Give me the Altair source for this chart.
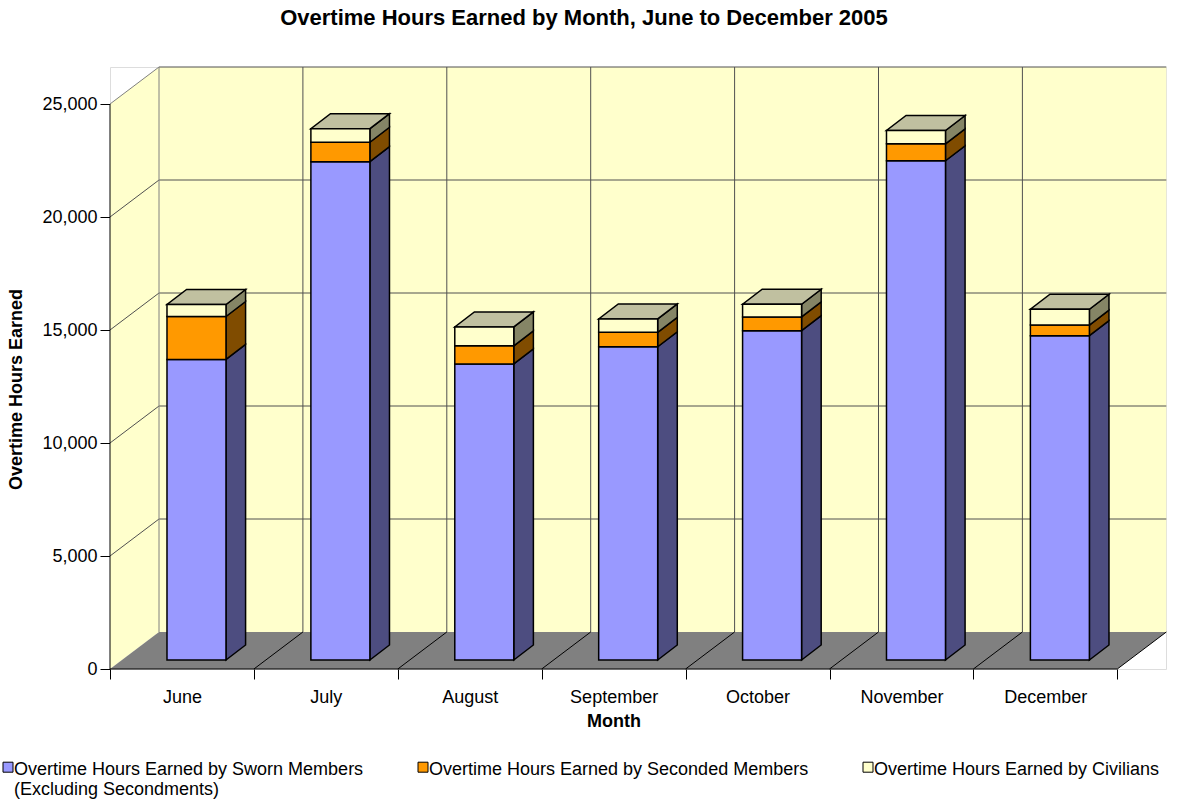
import altair as alt
import pandas as pd

# ---------------- data ----------------
months = ["June", "July", "August", "September", "October", "November", "December"]
sworn = [13300, 22050, 13100, 13860, 14570, 22090, 14350]
seconded = [1900, 860, 800, 640, 610, 750, 470]
civilians = [530, 600, 840, 590, 560, 590, 700]
series_names = [
    "Overtime Hours Earned by Sworn Members (Excluding Secondments)",
    "Overtime Hours Earned by Seconded Members",
    "Overtime Hours Earned by Civilians",
]
y_ticks = [0, 5000, 10000, 15000, 20000, 25000]

# ---------------- styles ----------------
front_colors = ["#9999FF", "#FF9900", "#FFFFCC"]
side_colors = ["#4D4D80", "#804C00", "#858566"]
top_color = "#C0C0A0"
wall_color = "#FFFFCC"
floor_color = "#808080"
grid_color = "#505050"
edge_color = "#808080"
FONT = "Liberation Sans"

# ---------------- pseudo-3D geometry (in data units) ----------------
W, H = 1056, 602
N = len(months)
YTOP = y_ticks[-1]
Y_PX = 565 / YTOP          # pixels per data unit (front plane)
YMAX = H / Y_PX
UNIT_PX = 143.9            # pixels per category
XMAX = W / UNIT_PX
DX = 49 / UNIT_PX          # depth of the floor
DY = 37 / Y_PX
FX0, FX1 = 0.396, 0.806    # bar front face within a category
BASE = 9 / Y_PX            # bar front face sits a bit back on the floor
BDX = 19.6 / UNIT_PX       # bar depth
BDY = 15 / Y_PX

values = [sworn, seconded, civilians]

front_rows, side_rows, top_rows = [], [], []
for i, m in enumerate(months):
    cum = BASE
    for j, s in enumerate(series_names):
        v = values[j][i]
        y0, y1 = cum, cum + v
        cum = y1
        front_rows.append(dict(month=m, series=s, x=i + FX0, x2=i + FX1, y=y0, y2=y1, value=v))
        seg = f"{i}-{j}"
        side_rows.append(dict(seg=seg, c=side_colors[j], x=i + FX1, lo=y0, hi=y1))
        side_rows.append(dict(seg=seg, c=side_colors[j], x=i + FX1 + BDX, lo=y0 + BDY, hi=y1 + BDY))
    T = cum
    seg = f"top-{i}"
    top_rows += [
        dict(seg=seg, c=top_color, x=i + FX0, lo=T, hi=T),
        dict(seg=seg, c=top_color, x=i + FX0 + BDX, lo=T, hi=T + BDY),
        dict(seg=seg, c=top_color, x=i + FX1, lo=T, hi=T + BDY),
        dict(seg=seg, c=top_color, x=i + FX1 + BDX, lo=T + BDY, hi=T + BDY),
    ]

front_df = pd.DataFrame(front_rows)
side_df = pd.DataFrame(side_rows)
top_df = pd.DataFrame(top_rows)

left_wall_df = pd.DataFrame([dict(x=0, lo=0, hi=YTOP), dict(x=DX, lo=DY, hi=YTOP + DY)])
back_wall_df = pd.DataFrame([dict(x=DX, x2=N + DX, y=DY, y2=YTOP + DY)])
floor_df = pd.DataFrame([
    dict(x=0, lo=0, hi=0), dict(x=DX, lo=0, hi=DY),
    dict(x=N, lo=0, hi=DY), dict(x=N + DX, lo=DY, hi=DY),
])

rule_rows = []
for v in y_ticks[1:-1]:
    rule_rows.append(dict(x=DX, x2=N + DX, y=v + DY, y2=v + DY, c=grid_color, w=1))
    rule_rows.append(dict(x=0, x2=DX, y=v, y2=v + DY, c=grid_color, w=1))
for k in range(1, N):
    rule_rows.append(dict(x=DX + k, x2=DX + k, y=DY, y2=YTOP + DY, c=grid_color, w=1))
rule_rows.append(dict(x=DX, x2=N + DX, y=YTOP + DY, y2=YTOP + DY, c=grid_color, w=1))
rule_rows.append(dict(x=0, x2=DX, y=YTOP, y2=YTOP + DY, c=edge_color, w=1))
rule_rows.append(dict(x=DX, x2=DX, y=DY, y2=YTOP + DY, c=edge_color, w=1))
for k in range(1, N + 1):
    rule_rows.append(dict(x=k, x2=k + DX, y=0, y2=DY, c="black", w=1))
rule_rows.append(dict(x=0, x2=N, y=0, y2=0, c="black", w=1))
rule_rows.append(dict(x=0, x2=0, y=0, y2=YTOP, c="black", w=1))
rule_df = pd.DataFrame(rule_rows)

# ---------------- scales & axes (identical in every layer so they merge) ----------------
xs = alt.Scale(domain=[0, XMAX], nice=False, zero=False)
ys = alt.Scale(domain=[0, YMAX], nice=False, zero=False)

month_list = "[" + ",".join(f"'{m}'" for m in months) + "]"
x_axis = alt.Axis(
    values=[k / 2 for k in range(0, 2 * N + 1)],
    labelExpr=f"datum.value % 1 == 0.5 ? {month_list}[floor(datum.value)] : ''",
    tickOpacity={"condition": {"test": "datum.value % 1 == 0", "value": 1}, "value": 0},
    tickSize=10, tickColor="black", tickWidth=1,
    domain=False, grid=False, labelOverlap=False, labelFlush=False,
    labelFontSize=18, labelFont=FONT, labelColor="black", labelPadding=9,
    title="Month", titleFontSize=18, titleFont=FONT, titleFontWeight="bold",
    titleColor="black", titleX=503.5, titleY=52, titleBaseline="middle", titleAlign="center",
)
y_axis = alt.Axis(
    values=y_ticks, labelExpr="format(datum.value, ',.0f')", domain=False, grid=False,
    tickSize=10, tickColor="black", tickWidth=1,
    labelFontSize=18, labelFont=FONT, labelColor="black", labelPadding=3,
    title="Overtime Hours Earned", titleFontSize=18, titleFont=FONT, titleFontWeight="bold",
    titleColor="black", titleX=-94, titleY=322, titleBaseline="middle", titleAlign="center",
    titleAngle=270,
)


def X(field):
    return alt.X(field, scale=xs, axis=x_axis, title="Month")


def Y(field):
    return alt.Y(field, scale=ys, axis=y_axis, stack=None, title="Overtime Hours Earned")


left_wall = alt.Chart(left_wall_df).mark_area(color=wall_color).encode(
    x=X("x:Q"), y=Y("lo:Q"), y2="hi:Q",
)
back_wall = alt.Chart(back_wall_df).mark_rect(color=wall_color).encode(
    x=X("x:Q"), x2="x2:Q", y=Y("y:Q"), y2="y2:Q",
)
floor = alt.Chart(floor_df).mark_area(color=floor_color).encode(
    x=X("x:Q"), y=Y("lo:Q"), y2="hi:Q",
)
rules = alt.Chart(rule_df).mark_rule().encode(
    x=X("x:Q"), x2="x2:Q", y=Y("y:Q"), y2="y2:Q",
    color=alt.Color("c:N", scale=None),
    size=alt.Size("w:Q", scale=None),
)
sides = alt.Chart(side_df).mark_area(stroke="black", strokeWidth=1.5, fillOpacity=1).encode(
    x=X("x:Q"), y=Y("lo:Q"), y2="hi:Q",
    fill=alt.Fill("c:N", scale=None),
    detail="seg:N",
)
tops = alt.Chart(top_df).mark_area(stroke="black", strokeWidth=1.5, fillOpacity=1).encode(
    x=X("x:Q"), y=Y("lo:Q"), y2="hi:Q",
    fill=alt.Fill("c:N", scale=None),
    detail="seg:N",
)

label_lines = (
    f"datum.label == '{series_names[0]}' ? "
    "['Overtime Hours Earned by Sworn Members', '(Excluding Secondments)'] : [datum.label, '']"
)
legend = alt.Legend(
    title=None, orient="none", legendX=-114, legendY=685,
    direction="horizontal", columns=3, columnPadding=47, padding=0,
    symbolType="M-0.4,0.24L1.6,0.24L1.6,2.24L-0.4,2.24Z", symbolSize=100,
    symbolStrokeColor="black", symbolStrokeWidth=1, symbolOpacity=1,
    labelFontSize=18, labelFont=FONT, labelColor="black", labelLimit=800,
    labelBaseline="top", labelOffset=0,
    labelExpr=label_lines,
)

fronts = alt.Chart(front_df).mark_rect(stroke="black", strokeWidth=1.5, opacity=1).encode(
    x=X("x:Q"), x2="x2:Q", y=Y("y:Q"), y2="y2:Q",
    color=alt.Color("series:N", scale=alt.Scale(domain=series_names, range=front_colors),
                    legend=legend, sort=series_names),
    tooltip=["month:N", "series:N", alt.Tooltip("value:Q", format=",")],
)

chart = alt.layer(left_wall, back_wall, floor, rules, sides, tops, fronts).properties(
    width=W, height=H,
    autosize=alt.AutoSizeParams(type="none"),
    padding={"left": 110, "top": 67, "right": 11, "bottom": 132},
    title=alt.TitleParams(
        "Overtime Hours Earned by Month, June to December 2005",
        fontSize=22, font=FONT, fontWeight="bold", color="black",
        anchor="middle", frame="group", dx=-54, offset=15, baseline="bottom",
    ),
).configure_view(strokeWidth=0).configure(background="white")

chart.save("out.html", embed_options={"renderer": "svg", "actions": False})
